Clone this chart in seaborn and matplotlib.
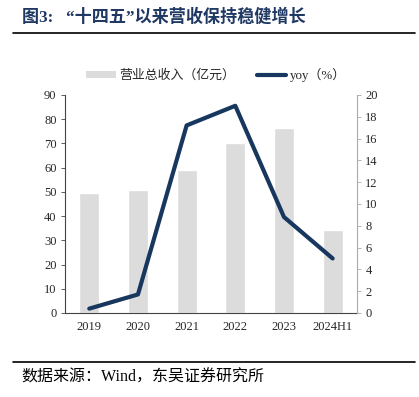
import numpy as np
import pandas as pd
import matplotlib.pyplot as plt
import seaborn as sns
from matplotlib.lines import Line2D
from matplotlib.patches import Patch

years = ['2019', '2020', '2021', '2022', '2023', '2024H1']
revenue = [49.6, 50.8, 59.0, 70.2, 76.4, 34.3]   # 营业总收入（亿元）
yoy = [0.4, 1.7, 17.2, 19.0, 8.8, 5.0]           # yoy（%）

sns.set_style('white')
plt.rcParams['font.family'] = ['Liberation Serif', 'Noto Sans CJK SC', 'DejaVu Sans']

bar_color = '#dcdcdc'
line_color = '#17375e'

df = pd.DataFrame({'year': years, 'revenue': revenue, 'yoy': yoy})

fig = plt.figure(figsize=(4.19, 3.97), dpi=100)
ax = fig.add_axes([0.155, 0.2116, 0.697, 0.5494])

sns.barplot(data=df, x='year', y='revenue', color=bar_color, width=0.41,
            saturation=1, ax=ax)
ax.set_ylim(0, 90)
ax.set_yticks(range(0, 91, 10))
ax.set_xlabel('')
ax.set_ylabel('')

ax2 = ax.twinx()
sns.lineplot(x=np.arange(len(years)), y=df['yoy'], color=line_color,
             linewidth=3, ax=ax2)
ax2.set_ylim(0, 20)
ax2.set_yticks(range(0, 21, 2))
ax2.set_ylabel('')
ax.set_xlim(-0.5, len(years) - 0.5)

# spines and ticks
for a in (ax, ax2):
    a.spines['top'].set_visible(False)
ax.spines['right'].set_visible(False)
ax2.spines['left'].set_visible(False)
ax2.spines['bottom'].set_visible(False)
ax.spines['left'].set_color('#444444')
ax.spines['bottom'].set_color('#444444')
ax2.spines['right'].set_color('#aaaaaa')
ax.spines['left'].set_linewidth(0.8)
ax.spines['bottom'].set_linewidth(0.8)
ax2.spines['right'].set_linewidth(0.8)

ax.tick_params(axis='y', direction='out', length=3, width=0.6, color='#444444',
               labelsize=9, pad=3)
ax2.tick_params(axis='y', direction='out', length=3, width=0.6, color='#aaaaaa',
                labelsize=9, pad=3)
ax.tick_params(axis='x', length=0, labelsize=9, pad=6)
ax.set_xticks(np.arange(len(years)))
ax.set_xticks(np.arange(len(years) + 1) - 0.5, minor=True)
ax.tick_params(axis='x', which='minor', direction='in', length=3, width=0.6,
               color='#888888')

# legend
handles = [Patch(facecolor=bar_color, edgecolor='none', label='营业总收入（亿元）'),
           Line2D([0], [0], color=line_color, linewidth=3, label='yoy（%）')]
fig.legend(handles=handles, loc='center', bbox_to_anchor=(0.515, 0.811), ncol=2,
           frameon=False, fontsize=9.3, handlelength=2.3, handleheight=0.45,
           columnspacing=1.7, handletextpad=0.25)

# title and source
fig.text(0.052, 0.957, '图3:   “十四五”以来营收保持稳健增长', fontsize=12.3,
         fontweight='bold', color='#1f3864', va='center', ha='left')
fig.add_artist(Line2D([0.03, 0.99], [0.918, 0.918], color='black', linewidth=1.2,
                      transform=fig.transFigure))
fig.add_artist(Line2D([0.03, 0.99], [0.088, 0.088], color='black', linewidth=1.2,
                      transform=fig.transFigure))
fig.text(0.052, 0.050, '数据来源：Wind，东吴证券研究所', fontsize=11.5,
         va='center', ha='left', color='black')

fig.savefig('out.png', dpi=100)
